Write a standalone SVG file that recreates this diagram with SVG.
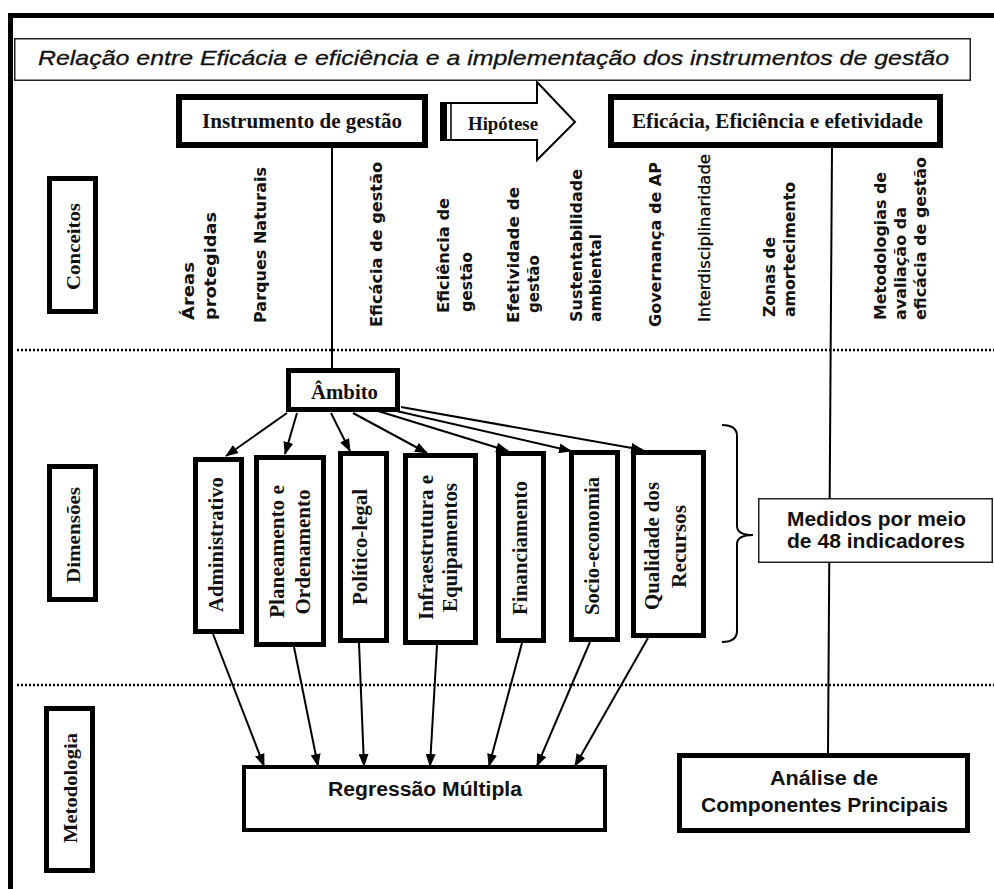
<svg xmlns="http://www.w3.org/2000/svg" width="994" height="889" viewBox="0 0 994 889">
<style>
.thick{fill:#fff;stroke:#000;stroke-width:5}
.thin{fill:#fff;stroke:#222;stroke-width:1.5}
.serif{font-family:"Liberation Serif","Times New Roman",serif;font-weight:bold;fill:#111}
.sans{font-family:"Liberation Sans",Arial,sans-serif;font-weight:bold;fill:#111}
.cpt{font-family:"DejaVu Sans","Noto Sans",sans-serif;font-weight:bold;font-size:16.5px;fill:#111}
.cptn{font-family:"DejaVu Sans","Noto Sans",sans-serif;font-weight:normal;font-size:16.5px;fill:#000;stroke:#000;stroke-width:0.3}
.conn{stroke:#000;stroke-width:2;fill:none}
.dot{stroke:#000;stroke-width:2.5;stroke-dasharray:2 2;fill:none}
</style>
<defs>
<marker id="ah" markerUnits="userSpaceOnUse" markerWidth="13" markerHeight="10" refX="12" refY="5" orient="auto">
<path d="M0,0 L13,5 L0,10 Z" fill="#000"/>
</marker>
</defs>
<rect x="0" y="0" width="994" height="889" fill="#fff"/>
<g id="frame">
<line x1="8" y1="15.5" x2="994" y2="15.5" stroke="#000" stroke-width="5"/>
<line x1="10.5" y1="13" x2="10.5" y2="889" stroke="#000" stroke-width="5"/>
<line class="dot" x1="17" y1="350" x2="994" y2="350"/>
<line class="dot" x1="17" y1="685" x2="994" y2="685"/>
</g>
<g id="title">
<rect class="thin" x="14.75" y="38.75" width="955.5" height="41.5"/>
<text x="38" y="65" font-family="'Liberation Sans',Arial,sans-serif" font-style="italic" font-size="21" fill="#111" stroke="#111" stroke-width="0.3" textLength="911" lengthAdjust="spacingAndGlyphs">Relação entre Eficácia e eficiência e a implementação dos instrumentos de gestão</text>
</g>
<g id="connectors">
<line class="conn" x1="332" y1="148" x2="332" y2="368"/>
<line class="conn" x1="832" y1="148" x2="828" y2="753"/>
<line class="conn" marker-end="url(#ah)" x1="287" y1="413" x2="226" y2="456"/>
<line class="conn" marker-end="url(#ah)" x1="297" y1="413" x2="285" y2="454"/>
<line class="conn" marker-end="url(#ah)" x1="331" y1="413" x2="350" y2="451"/>
<line class="conn" marker-end="url(#ah)" x1="353" y1="413" x2="427" y2="453"/>
<line class="conn" marker-end="url(#ah)" x1="378" y1="411" x2="508" y2="451"/>
<line class="conn" marker-end="url(#ah)" x1="392" y1="410" x2="571" y2="451"/>
<line class="conn" marker-end="url(#ah)" x1="401" y1="407" x2="643" y2="450"/>
<line class="conn" marker-end="url(#ah)" x1="213" y1="634" x2="264" y2="766"/>
<line class="conn" marker-end="url(#ah)" x1="294" y1="647" x2="318" y2="766"/>
<line class="conn" marker-end="url(#ah)" x1="359" y1="643" x2="364" y2="766"/>
<line class="conn" marker-end="url(#ah)" x1="437" y1="645" x2="430" y2="766"/>
<line class="conn" marker-end="url(#ah)" x1="522" y1="643" x2="489" y2="766"/>
<line class="conn" marker-end="url(#ah)" x1="590" y1="642" x2="537" y2="766"/>
<line class="conn" marker-end="url(#ah)" x1="648" y1="638" x2="575" y2="766"/>
<path class="conn" d="M722,425 Q737,425 737,436 L737,526 Q737,535 753,535 Q737,535 737,544 L737,631 Q737,642 722,642"/>
</g>
<g id="instrumento">
<rect x="179" y="97" width="246" height="48" fill="#fff" stroke="#000" stroke-width="6"/>
<text class="serif" x="202" y="128" font-size="20" textLength="200" lengthAdjust="spacingAndGlyphs">Instrumento de gestão</text>
</g>
<g id="hipotese">
<path d="M446,103 L537,103 L537,82 L575,122 L537,160 L537,140 L446,140 Z" fill="#fff" stroke="#000" stroke-width="2"/>
<rect x="440" y="102" width="7" height="39" fill="#000"/>
<line x1="451" y1="103" x2="451" y2="140" stroke="#000" stroke-width="1.5"/>
<text class="serif" x="468" y="130" font-size="18" textLength="70" lengthAdjust="spacingAndGlyphs">Hipótese</text>
</g>
<g id="eficacia">
<rect x="611" y="97" width="329" height="48" fill="#fff" stroke="#000" stroke-width="6"/>
<text class="serif" x="632" y="128" font-size="20" textLength="291" lengthAdjust="spacingAndGlyphs">Eficácia, Eficiência e efetividade</text>
</g>
<g id="conceitos-label">
<rect class="thick" x="49.5" y="178.5" width="46" height="133"/>
<text class="serif" font-size="19" text-anchor="middle" transform="translate(80,246.5) rotate(-90)" textLength="87" lengthAdjust="spacingAndGlyphs">Conceitos</text>
</g>
<g id="dimensoes-label">
<rect class="thick" x="49.5" y="466.5" width="46" height="133"/>
<text class="serif" font-size="19" text-anchor="middle" transform="translate(80,535) rotate(-90)" textLength="96" lengthAdjust="spacingAndGlyphs">Dimensões</text>
</g>
<g id="metodologia-label">
<rect class="thick" x="46.5" y="708.5" width="46" height="162"/>
<text class="serif" font-size="19" text-anchor="middle" transform="translate(77,788) rotate(-90)" textLength="110" lengthAdjust="spacingAndGlyphs">Metodologia</text>
</g>
<g id="conceitos">
<text class="cpt" transform="translate(194,320) rotate(-90)" textLength="58" lengthAdjust="spacingAndGlyphs">Áreas</text>
<text class="cpt" transform="translate(216,320) rotate(-90)" textLength="108" lengthAdjust="spacingAndGlyphs">protegidas</text>
<text class="cpt" transform="translate(266,323) rotate(-90)" textLength="156" lengthAdjust="spacingAndGlyphs">Parques Naturais</text>
<text class="cpt" transform="translate(382,327) rotate(-90)" textLength="165" lengthAdjust="spacingAndGlyphs">Eficácia de gestão</text>
<text class="cpt" transform="translate(449,313) rotate(-90)" textLength="115" lengthAdjust="spacingAndGlyphs">Eficiência de</text>
<text class="cpt" transform="translate(472,312) rotate(-90)" textLength="60" lengthAdjust="spacingAndGlyphs">gestão</text>
<text class="cpt" transform="translate(519,323) rotate(-90)" textLength="136" lengthAdjust="spacingAndGlyphs">Efetividade de</text>
<text class="cpt" transform="translate(539,313) rotate(-90)" textLength="58" lengthAdjust="spacingAndGlyphs">gestão</text>
<text class="cpt" transform="translate(582,322) rotate(-90)" textLength="153" lengthAdjust="spacingAndGlyphs">Sustentabilidade</text>
<text class="cpt" transform="translate(601,322) rotate(-90)" textLength="88" lengthAdjust="spacingAndGlyphs">ambiental</text>
<text class="cpt" transform="translate(661,327) rotate(-90)" textLength="165" lengthAdjust="spacingAndGlyphs">Governança de AP</text>
<text class="cptn" transform="translate(710,322) rotate(-90)" textLength="168" lengthAdjust="spacingAndGlyphs">Interdisciplinaridade</text>
<text class="cpt" transform="translate(775,317) rotate(-90)" textLength="80" lengthAdjust="spacingAndGlyphs">Zonas de</text>
<text class="cpt" transform="translate(795,317) rotate(-90)" textLength="135" lengthAdjust="spacingAndGlyphs">amortecimento</text>
<text class="cpt" transform="translate(886,320) rotate(-90)" textLength="148" lengthAdjust="spacingAndGlyphs">Metodologias de</text>
<text class="cpt" transform="translate(906,320) rotate(-90)" textLength="113" lengthAdjust="spacingAndGlyphs">avaliação da</text>
<text class="cpt" transform="translate(926,320) rotate(-90)" textLength="163" lengthAdjust="spacingAndGlyphs">eficácia de gestão</text>
</g>
<g id="ambito">
<rect class="thick" x="288.5" y="370.5" width="109" height="39"/>
<text class="serif" x="311" y="399" font-size="20" textLength="67" lengthAdjust="spacingAndGlyphs">Âmbito</text>
</g>
<g id="administrativo">
<rect class="thick" x="195.5" y="459.5" width="46" height="172"/>
<text class="serif" font-size="20" text-anchor="middle" transform="translate(223,544.5) rotate(-90)" textLength="135" lengthAdjust="spacingAndGlyphs">Administrativo</text>
</g>
<g id="planeamento">
<rect class="thick" x="256.5" y="457.5" width="67" height="187"/>
<text class="serif" font-size="20" text-anchor="middle" transform="translate(284,551.5) rotate(-90)" textLength="133" lengthAdjust="spacingAndGlyphs">Planeamento e</text>
<text class="serif" font-size="20" text-anchor="middle" transform="translate(310,552) rotate(-90)" textLength="125" lengthAdjust="spacingAndGlyphs">Ordenamento</text>
</g>
<g id="politico">
<rect class="thick" x="340.5" y="453.5" width="46" height="187"/>
<text class="serif" font-size="20" text-anchor="middle" transform="translate(367,547) rotate(-90)" textLength="116" lengthAdjust="spacingAndGlyphs">Político-legal</text>
</g>
<g id="infraestrutura">
<rect class="thick" x="405.5" y="455.5" width="70" height="187"/>
<text class="serif" font-size="20" text-anchor="middle" transform="translate(433,547.5) rotate(-90)" textLength="145" lengthAdjust="spacingAndGlyphs">Infraestrutura e</text>
<text class="serif" font-size="20" text-anchor="middle" transform="translate(457,547.5) rotate(-90)" textLength="129" lengthAdjust="spacingAndGlyphs">Equipamentos</text>
</g>
<g id="financiamento">
<rect class="thick" x="498.5" y="453.5" width="45" height="187"/>
<text class="serif" font-size="20" text-anchor="middle" transform="translate(527,548) rotate(-90)" textLength="134" lengthAdjust="spacingAndGlyphs">Financiamento</text>
</g>
<g id="socio">
<rect class="thick" x="571.5" y="452.5" width="46" height="187"/>
<text class="serif" font-size="20" text-anchor="middle" transform="translate(599,546) rotate(-90)" textLength="138" lengthAdjust="spacingAndGlyphs">Socio-economia</text>
</g>
<g id="qualidade">
<rect class="thick" x="633.5" y="452.5" width="70" height="183"/>
<text class="serif" font-size="20" text-anchor="middle" transform="translate(659,546) rotate(-90)" textLength="128" lengthAdjust="spacingAndGlyphs">Qualidade dos</text>
<text class="serif" font-size="20" text-anchor="middle" transform="translate(686,546.5) rotate(-90)" textLength="83" lengthAdjust="spacingAndGlyphs">Recursos</text>
</g>
<g id="medidos">
<rect class="thin" x="758.75" y="498.75" width="233.5" height="63.5"/>
<text class="sans" x="787" y="526" font-size="20" textLength="179" lengthAdjust="spacingAndGlyphs">Medidos por meio</text>
<text class="sans" x="787" y="548" font-size="20" textLength="178" lengthAdjust="spacingAndGlyphs">de 48 indicadores</text>
</g>
<g id="regressao">
<rect x="244" y="767" width="361" height="63" fill="#fff" stroke="#000" stroke-width="4"/>
<text class="sans" x="328" y="796" font-size="20" textLength="194" lengthAdjust="spacingAndGlyphs">Regressão Múltipla</text>
</g>
<g id="analise">
<rect class="thick" x="679.5" y="755.5" width="288" height="75"/>
<text class="sans" x="770" y="785" font-size="20" textLength="108" lengthAdjust="spacingAndGlyphs">Análise de</text>
<text class="sans" x="701" y="812" font-size="20" textLength="247" lengthAdjust="spacingAndGlyphs">Componentes Principais</text>
</g>
</svg>
